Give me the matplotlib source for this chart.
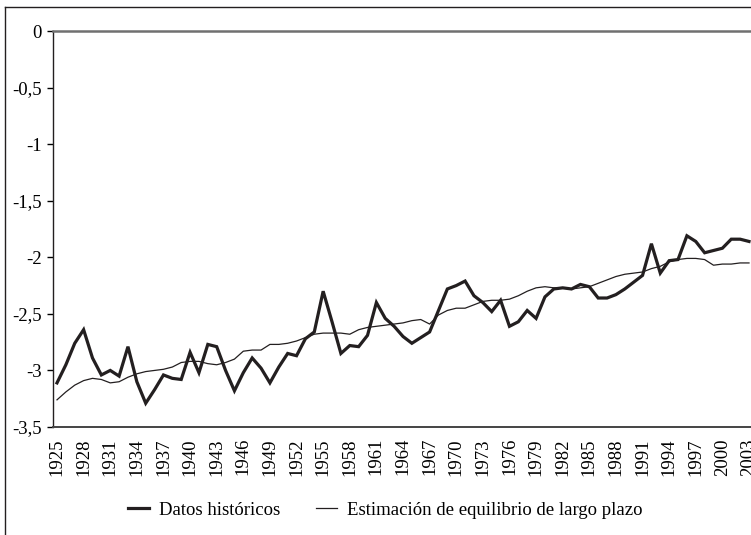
import numpy as np
from matplotlib import pyplot as plt
from matplotlib.lines import Line2D

# Years and series
years = np.arange(1925, 2004)

historicos = [-3.11, -2.95, -2.76, -2.64, -2.89, -3.04, -3.00, -3.05, -2.79, -3.10,
              -3.29, -3.17, -3.04, -3.07, -3.08, -2.84, -3.02, -2.77, -2.79, -3.00,
              -3.18, -3.02, -2.89, -2.98, -3.11, -2.97, -2.85, -2.87, -2.72, -2.66,
              -2.30, -2.57, -2.85, -2.78, -2.79, -2.69, -2.40, -2.54, -2.61, -2.70,
              -2.76, -2.71, -2.66, -2.47, -2.28, -2.25, -2.21, -2.34, -2.40, -2.48,
              -2.38, -2.61, -2.57, -2.47, -2.54, -2.35, -2.28, -2.27, -2.28, -2.24,
              -2.26, -2.36, -2.36, -2.33, -2.28, -2.22, -2.16, -1.88, -2.14, -2.03,
              -2.02, -1.81, -1.86, -1.96, -1.94, -1.92, -1.84, -1.84, -1.86]

equilibrio = [-3.26, -3.19, -3.13, -3.09, -3.07, -3.08, -3.11, -3.10, -3.06, -3.03,
              -3.01, -3.00, -2.99, -2.97, -2.93, -2.92, -2.92, -2.94, -2.95, -2.93,
              -2.90, -2.83, -2.82, -2.82, -2.77, -2.77, -2.76, -2.74, -2.71, -2.68,
              -2.67, -2.67, -2.67, -2.68, -2.64, -2.62, -2.61, -2.60, -2.59, -2.58,
              -2.56, -2.55, -2.59, -2.51, -2.47, -2.45, -2.45, -2.42, -2.39, -2.38,
              -2.38, -2.37, -2.34, -2.30, -2.27, -2.26, -2.27, -2.27, -2.28, -2.27,
              -2.26, -2.23, -2.20, -2.17, -2.15, -2.14, -2.13, -2.10, -2.08, -2.04,
              -2.02, -2.01, -2.01, -2.02, -2.07, -2.06, -2.06, -2.05, -2.05]

yticks = [0, -0.5, -1, -1.5, -2, -2.5, -3, -3.5]
ytick_labels = ['0', '-0,5', '-1', '-1,5', '-2', '-2,5', '-3', '-3,5']
xticks = years[::3]

plt.rcParams['font.family'] = ['Liberation Serif', 'DejaVu Serif']
plt.rcParams['font.size'] = 13.5

fig = plt.figure(figsize=(7.51, 5.35), dpi=100)
W, H = 751, 535
ax = fig.add_axes([53 / W, 1 - 427 / H, 1 - 53 / W, (427 - 31) / H])

ax.plot(years, historicos, color='#231f20', lw=2.3, label='Datos históricos',
        solid_joinstyle='miter')
ax.plot(years, equilibrio, color='#231f20', lw=0.9,
        label='Estimación de equilibrio de largo plazo')

ax.set_ylim(-3.5, 0)
ax.set_xlim(1925 - 4 / 8.87, 2003 + 2 / 8.87)
ax.set_yticks(yticks)
ax.set_yticklabels(ytick_labels)
ax.set_xticks(xticks)
ax.set_xticklabels([str(y) for y in xticks], rotation=90)
ax.tick_params(axis='x', length=0, pad=8)
ax.tick_params(axis='y', length=4, width=1, pad=4, direction='out')

ax.spines['right'].set_visible(False)
ax.spines['left'].set_color('#231f20')
ax.spines['left'].set_linewidth(1)
ax.spines['top'].set_color('#707070')
ax.spines['top'].set_linewidth(1.8)
ax.spines['bottom'].set_color('#444444')
ax.spines['bottom'].set_linewidth(1.4)

# outer frame (only left and top edges are visible in the crop)
fig.add_artist(Line2D([5 / W, 5 / W], [0, 1 - 7 / H], color='#231f20', lw=1))
fig.add_artist(Line2D([5 / W, 1], [1 - 7 / H, 1 - 7 / H], color='#231f20', lw=1))

fig.legend(loc='center', bbox_to_anchor=(385 / W, 1 - 510 / H), ncol=2,
           frameon=False, handlelength=1.15, columnspacing=1.9, handletextpad=0.5)

plt.savefig('out.png', dpi=100)
